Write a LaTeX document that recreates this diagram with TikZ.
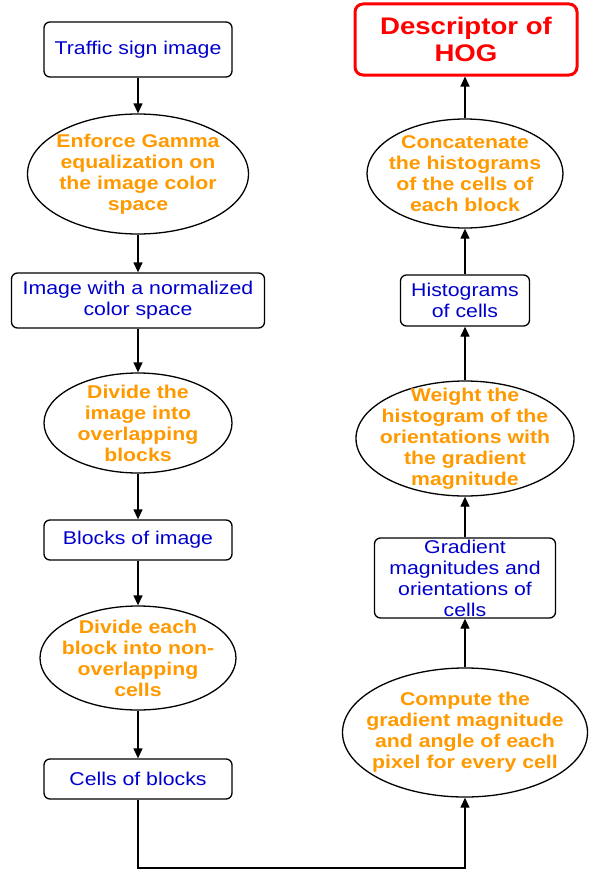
\documentclass[tikz,border=0pt]{standalone}
\usepackage{fontspec}
\setmainfont{Liberation Sans}[FakeStretch=1.15]
\usepackage{tikz}
\usetikzlibrary{shapes.geometric,arrows.meta}
\definecolor{stepblue}{RGB}{0,0,204}
\definecolor{steporange}{RGB}{255,153,0}
\definecolor{hogred}{RGB}{255,0,0}

\begin{document}
\begin{tikzpicture}[x=1pt,y=-1pt,
	data/.style={draw, rounded corners=6pt, line width=1.3pt, text=stepblue, align=center, inner sep=0pt, font=\fontsize{18.5}{21}\selectfont},
	process/.style={draw, ellipse, line width=1.3pt, text=steporange, align=center, inner sep=-30pt, font=\fontsize{18.5}{21}\selectfont\bfseries},
	result/.style={draw=hogred, rounded corners=8pt, line width=3pt, text=hogred, align=center, font=\fontsize{24}{27}\selectfont\bfseries},
	flow/.style={-{Triangle[length=10pt,width=9pt]}, line width=1.3pt}]
	\useasboundingbox (0,0) rectangle (592,875);

	% left column, top to bottom
	\node[data, minimum width=188pt, minimum height=55pt] (traffic) at (138,49.5) {Traffic sign image};
	\node[process, minimum width=221pt, minimum height=120pt] (gamma) at (138,174) {Enforce Gamma\\equalization on\\the image color\\space};
	\node[data, minimum width=253pt, minimum height=55pt] (normal) at (138,300.5) {Image with a normalized\\color space};
	\node[process, minimum width=188pt, minimum height=100pt] (divide) at (138,423) {Divide the\\image into\\overlapping\\blocks};
	\node[data, minimum width=188pt, minimum height=40pt] (blocks) at (138,540) {Blocks of image};
	\node[process, minimum width=196pt, minimum height=104pt] (split) at (138,658) {Divide each\\block into non-\\overlapping\\cells};
	\node[data, minimum width=188pt, minimum height=40pt] (cells) at (138,779) {Cells of blocks};

	% right column, bottom to top
	\node[process, minimum width=245pt, minimum height=129pt] (compute) at (465,732.5) {Compute the\\gradient magnitude\\and angle of each\\pixel for every cell};
	\node[data, minimum width=181pt, minimum height=80pt] (gradient) at (465,578) {Gradient\\magnitudes and\\orientations of\\cells};
	\node[process, minimum width=218pt, minimum height=115pt] (weight) at (465,438.5) {Weight the\\histogram of the\\orientations with\\the gradient\\magnitude};
	\node[data, minimum width=129pt, minimum height=51pt] (hist) at (465,300.5) {Histograms\\of cells};
	\node[process, minimum width=196pt, minimum height=109pt] (concat) at (465,173.5) {Concatenate\\the histograms\\of the cells of\\each block};
	\node[result, minimum width=222pt, minimum height=71pt] (hog) at (466,39.5) {Descriptor of\\HOG};

	\foreach \a/\b in {traffic/gamma, gamma/normal, normal/divide, divide/blocks, blocks/split, split/cells}
		\draw[flow] (\a.south) -- (\b.north);
	\foreach \a/\b in {compute/gradient, gradient/weight, weight/hist, hist/concat}
		\draw[flow] (\a.north) -- (\b.south);
	\draw[flow] (concat.north) -- (concat.north |- hog.south);

	\coordinate (bend) at (300,868);
	\draw[flow] (cells.south) |- (bend) -| (compute.south);

\end{tikzpicture}
\end{document}
